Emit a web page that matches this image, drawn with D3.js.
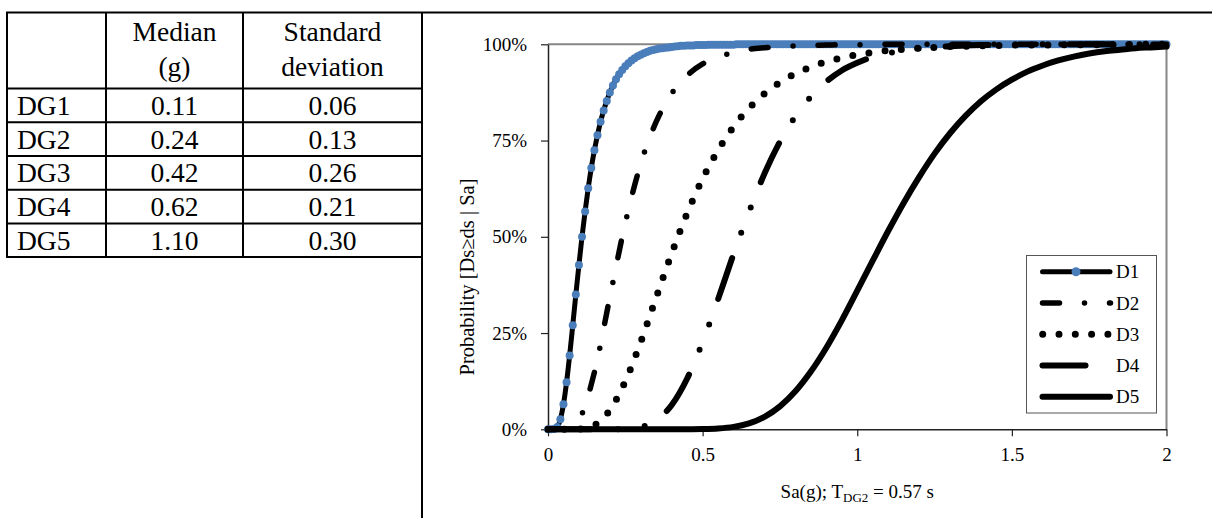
<!DOCTYPE html>
<html>
<head>
<meta charset="utf-8">
<script src="https://cdn.jsdelivr.net/npm/d3@7/dist/d3.min.js"></script>
<style>
  html, body { margin: 0; padding: 0; background: #fff; }
  svg { display: block; font-family: "Liberation Serif", "Times New Roman", serif; }
</style>
</head>
<body>
<svg id="fig" width="1212" height="518"></svg>
<script>
// ---- table of damage-group parameters ----
const groups = ["DG1", "DG2", "DG3", "DG4", "DG5"];
const medians = ["0.11", "0.24", "0.42", "0.62", "1.10"];
const stdDevs = ["0.06", "0.13", "0.26", "0.21", "0.30"];

// ---- fragility curves: probability of reaching each damage state vs Sa (g) ----
const seriesNames = ["D1", "D2", "D3", "D4", "D5"];
const xTicks = [0, 0.5, 1, 1.5, 2];
const yTicks = [0, 0.25, 0.5, 0.75, 1];

// fine Sa grid used by D1 (one marker per sample)
const saFine = [
  0.00,0.01,0.02,0.03,0.04,0.05,0.06,0.07,0.08,0.09,0.10,0.11,0.12,0.13,0.14,0.15,0.16,0.17,0.18,0.19,
  0.20,0.21,0.22,0.23,0.24,0.25,0.26,0.27,0.28,0.29,0.30,0.31,0.32,0.33,0.34,0.35,0.36,0.37,0.38,0.39,
  0.40,0.41,0.42,0.43,0.44,0.45,0.46,0.47,0.48,0.49,0.50,0.51,0.52,0.53,0.54,0.55,0.56,0.57,0.58,0.59,
  0.60,0.61,0.62,0.63,0.64,0.65,0.66,0.67,0.68,0.69,0.70,0.71,0.72,0.73,0.74,0.75,0.76,0.77,0.78,0.79,
  0.80,0.81,0.82,0.83,0.84,0.85,0.86,0.87,0.88,0.89,0.90,0.91,0.92,0.93,0.94,0.95,0.96,0.97,0.98,0.99,
  1.00,1.01,1.02,1.03,1.04,1.05,1.06,1.07,1.08,1.09,1.10,1.11,1.12,1.13,1.14,1.15,1.16,1.17,1.18,1.19,
  1.20,1.21,1.22,1.23,1.24,1.25,1.26,1.27,1.28,1.29,1.30,1.31,1.32,1.33,1.34,1.35,1.36,1.37,1.38,1.39,
  1.40,1.41,1.42,1.43,1.44,1.45,1.46,1.47,1.48,1.49,1.50,1.51,1.52,1.53,1.54,1.55,1.56,1.57,1.58,1.59,
  1.60,1.61,1.62,1.63,1.64,1.65,1.66,1.67,1.68,1.69,1.70,1.71,1.72,1.73,1.74,1.75,1.76,1.77,1.78,1.79,
  1.80,1.81,1.82,1.83,1.84,1.85,1.86,1.87,1.88,1.89,1.90,1.91,1.92,1.93,1.94,1.95,1.96,1.97,1.98,1.99,
  2.00
];
const d1 = [
  0,0,0.0005,0.006,0.026,0.065,0.122,0.192,0.270,0.350,0.427,0.500,0.566,0.626,0.679,0.725,0.764,0.799,0.828,0.853,
  0.875,0.893,0.909,0.922,0.933,0.943,0.951,0.958,0.964,0.969,0.973,0.977,0.980,0.983,0.985,0.987,0.989,0.990,0.991,0.992,
  0.993,0.994,0.995,0.996,0.996,0.997,0.997,0.997,0.998,0.998,0.998,0.998,0.999,0.999,0.999,0.999,0.999,0.999,0.999,0.999,
  0.999,1,1,1,1,1,1,1,1,1,1,1,1,1,1,1,1,1,1,1,
  1,1,1,1,1,1,1,1,1,1,1,1,1,1,1,1,1,1,1,1,
  1,1,1,1,1,1,1,1,1,1,1,1,1,1,1,1,1,1,1,1,
  1,1,1,1,1,1,1,1,1,1,1,1,1,1,1,1,1,1,1,1,
  1,1,1,1,1,1,1,1,1,1,1,1,1,1,1,1,1,1,1,1,
  1,1,1,1,1,1,1,1,1,1,1,1,1,1,1,1,1,1,1,1,
  1,1,1,1,1,1,1,1,1,1,1,1,1,1,1,1,1,1,1,1,
  1
];

// coarser Sa grid shared by D2-D5
const sa = [
  0.00,0.05,0.10,0.15,0.20,0.25,0.30,0.35,0.40,0.45,0.50,0.55,0.60,0.65,0.70,0.75,0.80,0.85,0.90,0.95,
  1.00,1.05,1.10,1.15,1.20,1.25,1.30,1.35,1.40,1.45,1.50,1.55,1.60,1.65,1.70,1.75,1.80,1.85,1.90,1.95,
  2.00
];
const d2 = [
  0,0.0002,0.026,0.148,0.343,0.536,0.690,0.799,0.872,0.919,0.949,0.967,0.979,0.987,0.991,0.994,0.996,0.997,0.998,0.999,
  0.999,1,1,1,1,1,1,1,1,1,1,1,1,1,1,1,1,1,1,1,
  1
];
const d3v = [
  0,0,0.0007,0.011,0.050,0.125,0.227,0.343,0.457,0.561,0.651,0.725,0.786,0.834,0.872,0.901,0.924,0.941,0.955,0.965,
  0.973,0.979,0.984,0.987,0.990,0.992,0.994,0.995,0.996,0.997,0.998,0.998,0.998,0.999,0.999,0.999,0.999,0.999,1,1,
  1
];
const d4 = [
  0,0,0,0,0,0.0008,0.0057,0.023,0.063,0.132,0.227,0.338,0.455,0.565,0.664,0.747,0.813,0.864,0.903,0.932,
  0.952,0.967,0.977,0.984,0.989,0.993,0.995,0.997,0.998,0.998,0.999,0.999,1,1,1,1,1,1,1,1,
  1
];
const d5 = [
  0,0,0,0,0,0,0,0,0,0.0001,0.0006,0.0022,0.0064,0.0156,0.0325,0.0597,0.0987,0.150,0.212,0.283,
  0.360,0.438,0.515,0.588,0.655,0.716,0.769,0.814,0.852,0.883,0.908,0.929,0.945,0.958,0.968,0.976,0.982,0.986,0.990,0.992,
  0.994
];

const BLUE = "#4a7ebb";
const FONT = '"Liberation Serif", "Times New Roman", serif';

// line styles per damage state
const styles = {
  D1: { width: 5, dash: null, marker: true },
  D2: { width: 5.5, dash: "17 25 0 25", marker: false },
  D3: { width: 7, dash: "0 16.3", marker: false },
  D4: { width: 6, dash: "43 27 0 27 0 27", marker: false },
  D5: { width: 6, dash: null, marker: false }
};

const series = [
  { name: "D1", xs: saFine, ys: d1 },
  { name: "D2", xs: sa, ys: d2 },
  { name: "D3", xs: sa, ys: d3v },
  { name: "D4", xs: sa, ys: d4 },
  { name: "D5", xs: sa, ys: d5 }
].map(s => ({ ...s, pts: s.xs.map((v, i) => ({ sa: v, p: s.ys[i] })) }));

const svg = d3.select("#fig");

// ---------- frame lines ----------
svg.append("line").attr("x1", 6).attr("x2", 1212).attr("y1", 12.5).attr("y2", 12.5)
  .attr("stroke", "#000").attr("stroke-width", 2);
svg.append("line").attr("x1", 422).attr("x2", 422).attr("y1", 12).attr("y2", 518)
  .attr("stroke", "#000").attr("stroke-width", 2);

// ---------- table ----------
const colX = [7, 106, 243, 422];
const rowY = [12, 88.5, 122.3, 156, 189.8, 223.5, 257];
const tbl = svg.append("g");
colX.slice(0, 3).forEach(cx => {
  tbl.append("line").attr("x1", cx).attr("x2", cx).attr("y1", rowY[0]).attr("y2", rowY[rowY.length - 1])
    .attr("stroke", "#000").attr("stroke-width", 2);
});
rowY.slice(1).forEach(ry => {
  tbl.append("line").attr("x1", colX[0] - 1).attr("x2", colX[3]).attr("y1", ry).attr("y2", ry)
    .attr("stroke", "#000").attr("stroke-width", 2);
});
const cellText = (x, y, t, anchor) => tbl.append("text").attr("x", x).attr("y", y)
  .attr("text-anchor", anchor).attr("dominant-baseline", "central")
  .attr("font-family", FONT).attr("font-size", 27.5).attr("fill", "#000").text(t);
const c2 = (colX[1] + colX[2]) / 2, c3 = (colX[2] + colX[3]) / 2;
cellText(c2, 31, "Median", "middle");
cellText(c2, 66, "(g)", "middle");
cellText(c3, 31, "Standard", "middle");
cellText(c3, 66, "deviation", "middle");
groups.forEach((g, i) => {
  const cy = (rowY[i + 1] + rowY[i + 2]) / 2;
  cellText(17, cy, g, "start");
  cellText(c2, cy, medians[i], "middle");
  cellText(c3, cy, stdDevs[i], "middle");
});

// ---------- chart ----------
const x = d3.scaleLinear().domain([0, 2]).range([548, 1166.5]);
const y = d3.scaleLinear().domain([0, 1]).range([429.3, 44.3]);

// plot-area border (top and right)
svg.append("path")
  .attr("d", `M${x(0)},${y(1)}H${x(2)}V${y(0)}`)
  .attr("fill", "none").attr("stroke", "#868686").attr("stroke-width", 2);

const yAxis = svg.append("g").attr("transform", `translate(${x(0)},0)`)
  .call(d3.axisLeft(y).tickValues(yTicks).tickFormat(d3.format(".0%")).tickSize(7).tickSizeOuter(0).tickPadding(14));
const xAxis = svg.append("g").attr("transform", `translate(0,${y(0)})`)
  .call(d3.axisBottom(x).tickValues(xTicks).tickFormat(d3.format("~g")).tickSize(7).tickSizeOuter(0).tickPadding(11));
[yAxis, xAxis].forEach(a => {
  a.attr("font-family", FONT);
  a.select(".domain").attr("stroke", "#222").attr("stroke-width", 1.5);
  a.selectAll(".tick line").attr("stroke", "#222").attr("stroke-width", 1.2);
  a.selectAll(".tick text").attr("font-family", FONT).attr("font-size", 19).attr("fill", "#000");
});

// axis titles
svg.append("text").attr("transform", `translate(474,277) rotate(-90)`)
  .attr("text-anchor", "middle").attr("font-family", FONT).attr("font-size", 20.5).attr("fill", "#000")
  .text("Probability [Ds\u2265ds | Sa]");
const xt = svg.append("text").attr("x", (x(0) + x(2)) / 2).attr("y", 498)
  .attr("text-anchor", "middle").attr("font-family", FONT).attr("font-size", 19).attr("fill", "#000");
xt.append("tspan").text("Sa(g); T");
xt.append("tspan").attr("font-size", 13).attr("dy", 4).text("DG2");
xt.append("tspan").attr("dy", -4).text(" = 0.57 s");

// curves
const line = d3.line().x(d => x(d.sa)).y(d => y(d.p)).curve(d3.curveMonotoneX);
const gCurves = svg.append("g");
series.forEach(s => {
  const st = styles[s.name];
  gCurves.append("path").datum(s.pts).attr("d", line)
    .attr("fill", "none").attr("stroke", "#000").attr("stroke-width", st.width)
    .attr("stroke-linecap", "round").attr("stroke-linejoin", "round")
    .attr("stroke-dasharray", st.dash);
  if (st.marker) {
    gCurves.append("g").selectAll("circle").data(s.pts).join("circle")
      .attr("cx", d => x(d.sa)).attr("cy", d => y(d.p)).attr("r", 4).attr("fill", BLUE);
  }
});

// ---------- legend ----------
const lg = svg.append("g");
lg.append("rect").attr("x", 1026.5).attr("y", 255.5).attr("width", 130).attr("height", 157.5)
  .attr("fill", "#fff").attr("stroke", "#555").attr("stroke-width", 1);
const legY = [271.7, 303, 334.2, 365.5, 396.8];
seriesNames.forEach((n, i) => {
  const st = styles[n];
  const ly = legY[i];
  const x0 = n === "D3" ? 1042.7 : 1042.5;
  const x1 = n === "D2" ? 1110.5 : (n === "D3" ? 1108 : 1110);
  lg.append("path").attr("d", `M${x0},${ly}H${x1}`)
    .attr("stroke", "#000").attr("stroke-width", st.width).attr("fill", "none")
    .attr("stroke-linecap", "round").attr("stroke-dasharray", st.dash);
  if (st.marker) {
    lg.append("circle").attr("cx", 1076).attr("cy", ly).attr("r", 4.5).attr("fill", BLUE);
  }
  lg.append("text").attr("x", 1116).attr("y", ly).attr("dominant-baseline", "central")
    .attr("font-family", FONT).attr("font-size", 19).attr("fill", "#000").text(n);
});
</script>
</body>
</html>
